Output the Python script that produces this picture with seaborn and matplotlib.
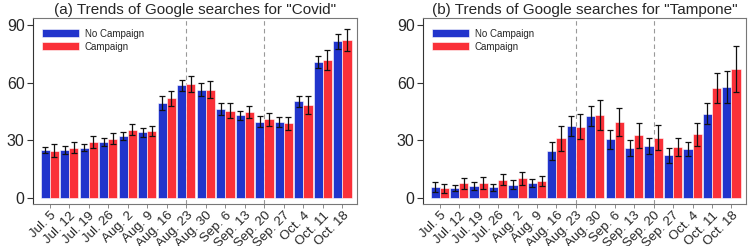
import pandas as pd
import matplotlib
matplotlib.use("Agg")
import matplotlib.pyplot as plt
import numpy as np
import seaborn as sns

# weekly categories
weeks = ["Jul. 5", "Jul. 12", "Jul. 19", "Jul. 26", "Aug. 2", "Aug. 9", "Aug. 16", "Aug. 23",
         "Aug. 30", "Sep. 6", "Sep. 13", "Sep. 20", "Sep. 27", "Oct. 4", "Oct. 11", "Oct. 18"]
groups = ["No Campaign", "Campaign"]

# (a) Covid
covid_no = [25.1, 25.1, 26.3, 29.2, 32.3, 34.2, 49.4, 58.6, 56.4, 46.3, 43.1, 39.7, 39.7, 50.3, 70.8, 81.4]
covid_yes = [24.7, 26.3, 29.2, 30.9, 35.5, 34.9, 51.8, 59.3, 56.4, 45.5, 44.8, 40.9, 39.0, 48.5, 71.9, 82.1]
covid_no_err = [1.6, 2.2, 1.8, 2.1, 2.0, 2.5, 3.6, 2.8, 3.3, 3.2, 2.4, 2.8, 2.7, 2.9, 3.0, 3.7]
covid_yes_err = [3.4, 2.7, 3.0, 2.8, 2.8, 2.8, 4.0, 4.1, 4.5, 3.7, 3.1, 3.4, 3.4, 4.7, 5.1, 5.6]

# (b) Tampone
tamp_no = [6.0, 5.3, 6.4, 5.8, 7.1, 7.8, 24.3, 37.4, 42.9, 30.5, 26.2, 27.0, 22.4, 25.7, 44.0, 57.8]
tamp_yes = [5.2, 7.8, 7.8, 9.6, 10.3, 8.8, 31.2, 37.1, 43.4, 39.5, 32.7, 31.4, 26.7, 33.1, 57.2, 67.2]
tamp_no_err = [2.6, 1.8, 2.0, 1.8, 2.2, 2.0, 4.7, 5.3, 5.2, 4.8, 4.1, 4.2, 3.9, 3.7, 5.2, 8.4]
tamp_yes_err = [2.3, 2.8, 3.0, 2.8, 3.5, 2.5, 6.5, 6.6, 7.8, 7.1, 6.6, 6.6, 4.7, 6.2, 8.0, 11.8]

titles = ['(a) Trends of Google searches for "Covid"', '(b) Trends of Google searches for "Tampone"']
vlines = ["Aug. 23", "Sep. 20"]

sns.set_style("white")
plt.rcParams["font.family"] = ["Liberation Sans", "DejaVu Sans"]

palette = {"No Campaign": "#2134CC", "Campaign": "#FA3038"}

fig = plt.figure(figsize=(7.48, 2.46), dpi=100)
ax1 = fig.add_axes([33 / 748, 1 - 204 / 246, 324 / 748, 186 / 246])
ax2 = fig.add_axes([423 / 748, 1 - 204 / 246, 323 / 748, 186 / 246])

panels = [
    (ax1, covid_no, covid_yes, covid_no_err, covid_yes_err, titles[0]),
    (ax2, tamp_no, tamp_yes, tamp_no_err, tamp_yes_err, titles[1]),
]

for ax, no, yes, no_err, yes_err, title in panels:
    df = pd.DataFrame({
        "week": weeks * 2,
        "value": no + yes,
        "group": [groups[0]] * len(weeks) + [groups[1]] * len(weeks),
    })
    for w in vlines:
        ax.axvline(weeks.index(w), color="#999999", ls=(0, (4, 3)), lw=0.8, zorder=0)
    sns.barplot(data=df, x="week", y="value", hue="group", hue_order=groups,
                palette=palette, width=0.94, saturation=1, errorbar=None,
                edgecolor="white", linewidth=0.4, ax=ax, zorder=2)
    for cont, err in zip(ax.containers, [no_err, yes_err]):
        xs = [p.get_x() + p.get_width() / 2 for p in cont.patches]
        hs = [p.get_height() for p in cont.patches]
        ax.errorbar(xs, hs, yerr=err, fmt="none", ecolor="#111111",
                    elinewidth=0.9, capsize=2.5, capthick=0.9, zorder=3)

    ax.set_xlim(-0.86, 15.75)
    ax.set_ylim(-3.0, 93.6)
    ax.set_yticks([0, 30, 60, 90])
    ax.tick_params(axis="y", labelsize=11.5, length=4, width=0.8, color="#333333", pad=2, left=True)
    ax.tick_params(axis="x", labelsize=9.5, length=3, width=0.6, color="#777777", pad=1, bottom=True)
    ax.set_xticks(range(len(weeks)))
    ax.set_xticklabels(weeks, rotation=45, ha="right", rotation_mode="anchor")
    ax.set_xlabel("")
    ax.set_ylabel("")
    ax.set_title(title, fontsize=11, pad=3)
    for s in ["top", "right", "bottom"]:
        ax.spines[s].set_color("#777777")
        ax.spines[s].set_linewidth(0.8)
    ax.spines["left"].set_color("#333333")
    ax.spines["left"].set_linewidth(0.8)

    ax.legend(loc="upper left", frameon=False, fontsize=7, handlelength=3.8,
              handleheight=0.85, handletextpad=0.6, labelspacing=0.3,
              borderaxespad=0.5, bbox_to_anchor=(0.0, 0.99))

fig.savefig("out.png", dpi=100)
